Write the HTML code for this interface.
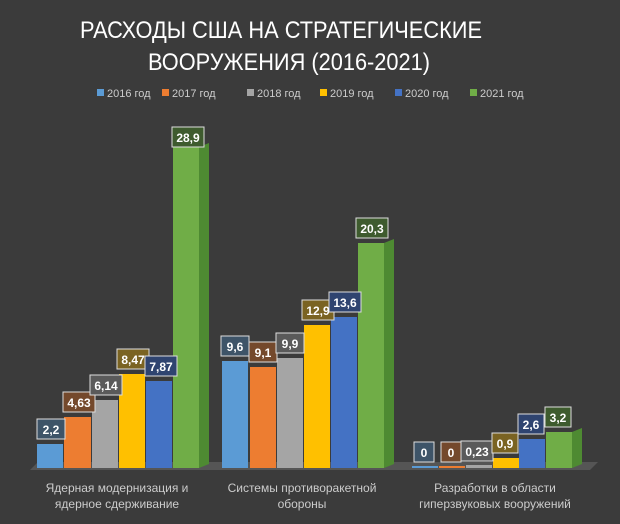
<!DOCTYPE html>
<html><head><meta charset="utf-8"><style>
html,body{margin:0;padding:0;background:#3b3b3b;}
svg{display:block;font-family:"Liberation Sans",sans-serif;}
</style></head><body>
<svg width="620" height="524" viewBox="0 0 620 524" xmlns="http://www.w3.org/2000/svg">
<rect width="620" height="524" fill="#3b3b3b"/>
<text x="80" y="38" fill="#fff" font-size="24" textLength="402" lengthAdjust="spacingAndGlyphs">РАСХОДЫ США НА СТРАТЕГИЧЕСКИЕ</text>
<text x="148" y="70" fill="#fff" font-size="24" textLength="282" lengthAdjust="spacingAndGlyphs">ВООРУЖЕНИЯ (2016-2021)</text>
<g font-size="11" fill="#ccc">
<rect x="97" y="89" width="7" height="7" fill="#5b9bd5"/><text x="107" y="97">2016 год</text>
<rect x="162" y="89" width="7" height="7" fill="#ed7d31"/><text x="172" y="97">2017 год</text>
<rect x="247" y="89" width="7" height="7" fill="#a5a5a5"/><text x="257" y="97">2018 год</text>
<rect x="320" y="89" width="7" height="7" fill="#ffc000"/><text x="330" y="97">2019 год</text>
<rect x="395" y="89" width="7" height="7" fill="#4472c4"/><text x="405" y="97">2020 год</text>
<rect x="470" y="89" width="7" height="7" fill="#70ad47"/><text x="480" y="97">2021 год</text>
</g>
<polygon points="30,470 590,470 598,462 38,462" fill="#555"/>
<g>
<rect x="37" y="444" width="26" height="24" fill="#5b9bd5"/>
<rect x="64" y="417" width="27" height="51" fill="#ed7d31"/>
<rect x="92" y="400" width="26" height="68" fill="#a5a5a5"/>
<rect x="119" y="374" width="26" height="94" fill="#ffc000"/>
<rect x="146" y="381" width="26" height="87" fill="#4472c4"/>
<polygon points="199,147 209,143 209,464 199,468" fill="#4e8a32"/>
<rect x="173" y="147" width="26" height="321" fill="#70ad47"/>
<rect x="222" y="361" width="26" height="107" fill="#5b9bd5"/>
<rect x="250" y="367" width="26" height="101" fill="#ed7d31"/>
<rect x="277" y="358" width="26" height="110" fill="#a5a5a5"/>
<rect x="304" y="325" width="26" height="143" fill="#ffc000"/>
<rect x="331" y="317" width="26" height="151" fill="#4472c4"/>
<polygon points="384,243 394,239 394,464 384,468" fill="#4e8a32"/>
<rect x="358" y="243" width="26" height="225" fill="#70ad47"/>
<rect x="412" y="466" width="26" height="2" fill="#5b9bd5"/>
<rect x="439" y="466" width="26" height="2" fill="#ed7d31"/>
<rect x="466" y="465" width="26" height="3" fill="#a5a5a5"/>
<rect x="493" y="458" width="26" height="10" fill="#ffc000"/>
<rect x="519" y="439" width="26" height="29" fill="#4472c4"/>
<polygon points="572,432 582,428 582,464 572,468" fill="#4e8a32"/>
<rect x="546" y="432" width="26" height="36" fill="#70ad47"/>
</g>
<g font-size="12" font-weight="bold" fill="#fff" text-anchor="middle">
<g stroke="#ddd" stroke-width="1">
<rect x="37" y="419" width="28" height="20" fill="#3e5468"/>
<rect x="63" y="392" width="32" height="20" fill="#74492c"/>
<rect x="90" y="375" width="32" height="20" fill="#5a5a5a"/>
<rect x="117" y="349" width="32" height="20" fill="#7a6322"/>
<rect x="145" y="356" width="32" height="20" fill="#2f4470"/>
<rect x="172" y="127" width="32" height="20" fill="#3e5b2e"/>
<rect x="221" y="336" width="28" height="20" fill="#3e5468"/>
<rect x="249" y="342" width="28" height="20" fill="#74492c"/>
<rect x="276" y="333" width="28" height="20" fill="#5a5a5a"/>
<rect x="302" y="300" width="32" height="20" fill="#7a6322"/>
<rect x="329" y="292" width="32" height="20" fill="#2f4470"/>
<rect x="356" y="218" width="32" height="20" fill="#3e5b2e"/>
<rect x="414" y="442" width="20" height="20" fill="#3e5468"/>
<rect x="441" y="442" width="20" height="20" fill="#74492c"/>
<rect x="461" y="441" width="32" height="20" fill="#5a5a5a"/>
<rect x="492" y="433" width="26" height="20" fill="#7a6322"/>
<rect x="518" y="414" width="26" height="20" fill="#2f4470"/>
<rect x="545" y="407" width="26" height="20" fill="#3e5b2e"/>
</g>
<text x="51" y="434">2,2</text>
<text x="79" y="407">4,63</text>
<text x="106" y="390">6,14</text>
<text x="133" y="364">8,47</text>
<text x="161" y="371">7,87</text>
<text x="188" y="142">28,9</text>
<text x="235" y="351">9,6</text>
<text x="263" y="357">9,1</text>
<text x="290" y="348">9,9</text>
<text x="318" y="315">12,9</text>
<text x="345" y="307">13,6</text>
<text x="372" y="233">20,3</text>
<text x="424" y="457">0</text>
<text x="451" y="457">0</text>
<text x="477" y="456">0,23</text>
<text x="505" y="448">0,9</text>
<text x="531" y="429">2,6</text>
<text x="558" y="422">3,2</text>
</g>
<g font-size="12" fill="#ccc" text-anchor="middle">
<text x="117" y="492">Ядерная модернизация и</text>
<text x="117" y="508">ядерное сдерживание</text>
<text x="302" y="492">Системы противоракетной</text>
<text x="302" y="508">обороны</text>
<text x="495" y="492">Разработки в области</text>
<text x="495" y="508">гиперзвуковых вооружений</text>
</g>
</svg>
</body></html>
